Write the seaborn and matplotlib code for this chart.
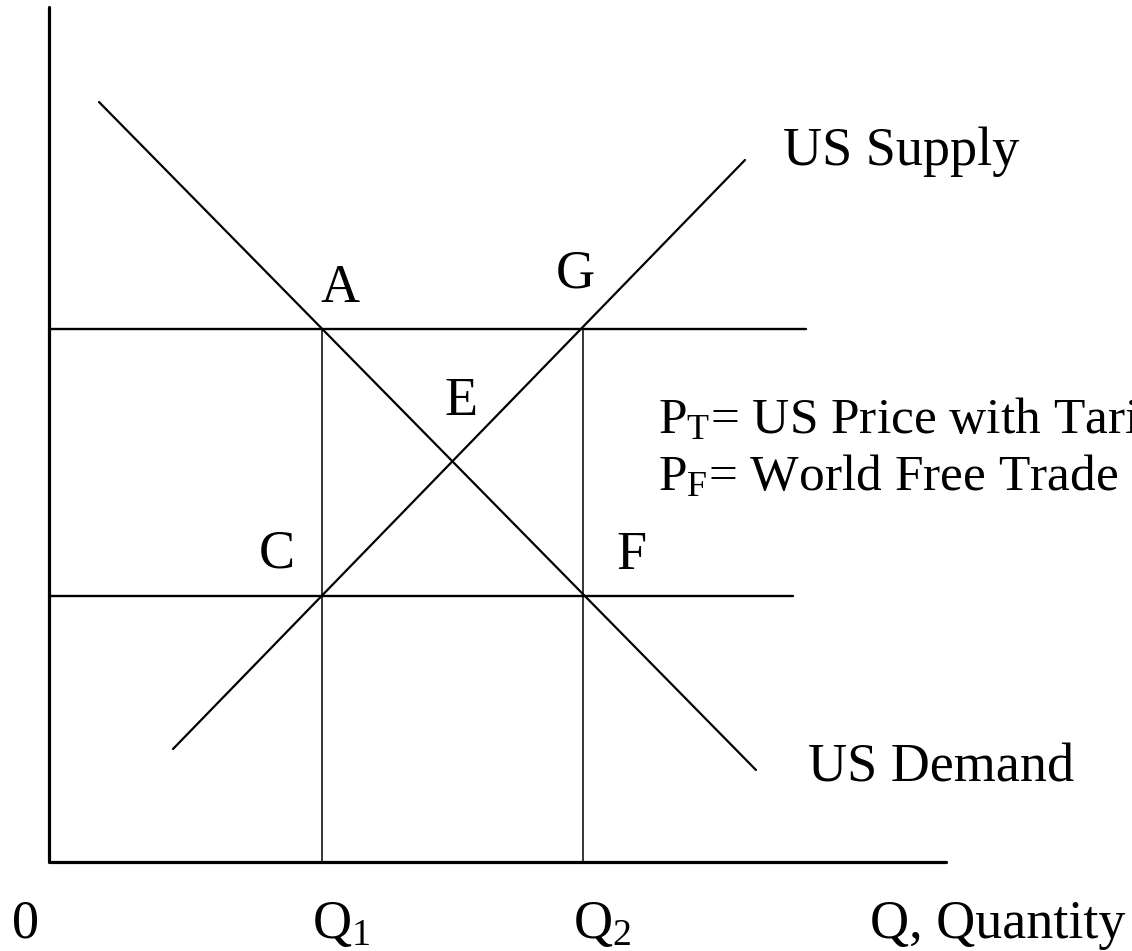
import numpy as np
import pandas as pd
import seaborn as sns
import matplotlib
matplotlib.use("Agg")
import matplotlib.pyplot as plt

sns.set_style("white")
plt.rcParams['font.family'] = ['Liberation Serif', 'DejaVu Serif']
plt.rcParams['text.color'] = 'black'
plt.rcParams['mathtext.fontset'] = 'custom'
plt.rcParams['mathtext.rm'] = 'Liberation Serif'
plt.rcParams['mathtext.it'] = 'Liberation Serif:italic'

# diagram values (quantity, price)
axis_q = [0, 0, 89.7]
axis_p = [85.5, 0, 0]

demand_q = [5.0, 70.7]
demand_p = [76.0, 9.2]
supply_q = [12.4, 69.6]
supply_p = [11.3, 70.2]

p_tariff = 53.3      # P_T
p_free = 26.6        # P_F
pt_end = 75.7
pf_end = 74.4
q1 = 27.3
q2 = 53.4

# point labels
pt_names = ['A', 'G', 'E', 'C', 'F']
pt_q = [29.1, 52.6, 41.2, 22.8, 58.2]
pt_p = [56.0, 57.5, 44.7, 29.4, 29.3]

fig = plt.figure(figsize=(11.32, 9.51), dpi=100)
ax = fig.add_axes([0, 0, 1, 1])
ax.set_xlim(-4.9, 108.3)
ax.set_ylim(-8.9, 86.2)
ax.axis('off')

def seg(x, y, lw):
    sns.lineplot(x=x, y=y, ax=ax, color='black', linewidth=lw,
                 estimator=None, sort=False)

seg(axis_q, axis_p, 2.3)
seg(demand_q, demand_p, 1.6)
seg(supply_q, supply_p, 1.6)
seg([0, pt_end], [p_tariff, p_tariff], 1.7)
seg([0, pf_end], [p_free, p_free], 1.7)
seg([q1, q1], [0, p_tariff], 1.1)
seg([q2, q2], [0, p_tariff], 1.1)

fs = 39
for n, x, y in zip(pt_names, pt_q, pt_p):
    ax.text(x, y, n, fontsize=fs, ha='center', va='baseline')

ax.text(73.4, 69.7, 'US Supply', fontsize=fs, va='baseline')
ax.text(75.9, 8.0, 'US Demand', fontsize=fs, va='baseline')
# these two run past the right edge, as in the original slide
ax.text(60.9, 42.9, r'P$_\mathrm{T}$= US Price with Tariff', fontsize=37, va='baseline')
ax.text(60.9, 37.2, r'P$_\mathrm{F}$= World Free Trade Price', fontsize=37, va='baseline')

ax.text(-2.4, -7.6, '0', fontsize=fs, ha='center', va='baseline')
ax.text(26.3, -7.6, r'Q$_\mathrm{1}$', fontsize=fs, va='baseline')
ax.text(52.4, -7.6, r'Q$_\mathrm{2}$', fontsize=fs, va='baseline')
ax.text(107.6, -7.6, 'Q, Quantity', fontsize=fs, ha='right', va='baseline')

fig.savefig('out.png', dpi=100)
